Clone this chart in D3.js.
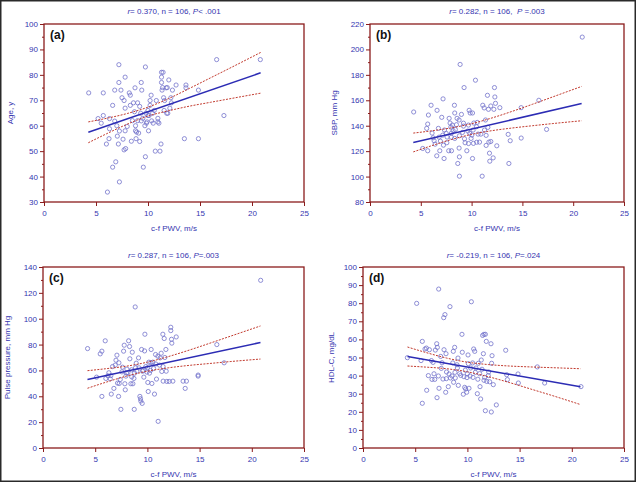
<!DOCTYPE html>
<html><head><meta charset="utf-8">
<script src="https://cdn.jsdelivr.net/npm/d3@7"></script>
<style>body{margin:0;background:#fff}svg{display:block}text{font-family:Arial,"Liberation Sans",sans-serif}</style>
</head><body>
<svg id="chart" width="636" height="482"></svg>
<script>
// ---------- data ----------
const pwvA = [4.3,5.2,5.5,5.7,5.7,6.0,6.1,6.25,6.3,6.3,6.6,6.6,6.8,6.9,6.8,7.0,7.05,7.15,7.2,7.2,7.25,7.25,7.4,7.5,7.6,7.7,7.7,7.8,7.8,7.8,7.85,8.0,8.2,8.3,8.3,8.4,8.6,8.7,8.75,8.8,8.8,8.85,8.9,9.0,9.1,9.2,9.2,9.3,9.35,9.35,9.4,9.5,9.55,9.7,9.75,9.75,9.8,9.85,9.9,10.0,10.05,10.1,10.2,10.2,10.3,10.35,10.45,10.5,10.6,10.7,10.8,10.95,10.95,11.05,11.15,11.25,11.3,11.3,11.3,11.35,11.4,11.45,11.5,11.55,11.6,11.75,11.8,11.85,11.9,12.0,12.1,12.2,12.25,12.35,12.7,13.5,13.65,13.65,14.85,14.85,16.6,17.3,20.8,9.0,10.0,8.5];
const ageA = [72.9,62.8,61,64,72.9,52.8,33.9,54.9,62.8,58.8,68,43.7,74,45.8,61.8,60,55.9,52.8,77,84,37.9,57.9,74,71,54.7,69.9,50.5,58,79.1,66.9,51,59.7,72.9,72,68,53.9,69,65.5,74.9,60,58,54.9,57.5,69,57.1,53.8,67.6,64.9,77,61.9,74,62.9,43.7,60,83.1,47.8,64.9,61,61.5,66,58,64,69.9,68,72,61.9,64.9,61,66,50,69.9,62.9,61.5,61,50,52.8,81,77,79.1,74,75,81,71,66,69.9,74.9,64.9,75,64.9,78,66.9,71,69,74,76,54.9,74.9,76,54.9,74,86,64,86,62,64,62];

const pwvB = [4.30,5.19,5.58,5.68,5.75,5.68,6.01,6.11,6.21,6.31,6.41,6.57,6.6,6.73,6.87,6.93,7.06,7.16,7.23,7.19,7.29,7.33,7.56,7.59,7.75,7.79,7.88,7.95,8.02,8.02,8.11,8.18,8.31,8.34,8.34,8.51,8.57,8.64,8.77,8.80,8.77,8.80,8.80,8.87,9.00,9.10,9.20,9.26,9.30,9.36,9.53,9.63,9.69,9.76,9.82,9.86,9.95,10.02,10.09,10.09,10.15,10.18,10.22,10.38,10.48,10.55,10.64,10.78,10.91,11.04,11.10,11.24,11.27,11.37,11.43,11.43,11.56,11.60,11.66,11.70,11.76,11.79,11.89,11.89,12.12,12.19,12.25,12.29,12.35,12.48,12.78,13.60,13.67,13.80,14.88,14.88,16.62,17.38,20.89,7.5,8.4,9.2,10.5,9.7,6.8,8.0];
const sbpB = [150.8,122.1,137.9,141.3,148.4,120.3,156.1,134.2,130.5,128.2,125.5,116.3,152.1,137.9,120.3,127.9,146.6,132.6,124.7,161.1,114.2,136.6,126.6,131.1,120.3,145.8,142.1,138.9,134.2,120.3,140.5,136.1,156.1,150.0,130.0,140.8,145.8,110.3,144.5,132.1,122.4,115.5,100.3,188.2,148.9,134.7,139.7,170.0,129.7,126.6,120.3,135.8,140.5,152.1,134.0,150.0,130.0,132.6,150.0,114.2,136.6,126.1,142.1,175.8,139.2,142.6,133.4,127.1,133.4,100.3,156.1,154.0,136.6,144.5,132.4,124.5,163.9,138.7,152.9,127.1,118.4,112.1,127.6,155.5,114.7,152.9,170.0,162.6,157.6,124.2,154.2,133.2,110.3,128.2,154.2,130.3,160.0,137.1,209.7,134,137,142,127,126,131,131];

const pwvC = [4.27,5.13,5.48,5.64,5.64,5.96,6.02,6.22,6.31,6.44,6.54,6.66,6.79,6.92,6.99,7.08,7.14,7.24,7.27,7.30,7.46,7.56,7.62,7.72,7.78,7.84,7.88,7.94,8.04,8.13,8.20,8.29,8.32,8.42,8.48,8.55,8.61,8.71,8.74,8.77,8.83,8.86,8.93,8.99,9.15,9.28,9.34,9.37,9.50,9.44,9.53,9.66,9.73,9.76,9.85,9.95,10.04,10.08,10.14,10.20,10.33,10.36,10.43,10.52,10.59,10.68,10.78,10.87,11.00,11.03,11.16,11.22,11.32,11.38,11.48,11.51,11.61,11.67,11.77,11.80,11.86,12.09,12.24,12.24,12.31,12.34,12.44,12.76,13.42,13.62,13.74,14.86,14.86,16.65,17.35,20.85,8.0,9.2,10.0,7.4,10.8,11.5,9.6,6.5,8.5,10.3];
const ppC = [76.9,54.8,72.8,74.9,39.9,82.9,53.8,55.8,58.2,53.5,41.7,63.0,46.1,64.1,67.9,71.8,50.2,39.9,65.9,49.9,29.9,58.9,62.5,74.9,79.5,49.7,45.0,55.6,61.0,58.2,82.9,78.5,69.0,49.7,60.5,74.1,49.7,53.8,29.9,57.9,109.1,62.0,65.6,59.4,69.7,39.9,38.1,36.3,34.5,76.2,59.4,54.8,75.1,88.0,63.0,58.7,50.7,43.7,66.4,57.9,66.1,76.2,49.9,66.4,61.5,41.7,72.3,53.3,71.0,20.6,64.1,69.7,73.3,59.2,88.0,51.7,84.7,70.0,76.2,59.4,51.5,51.5,93.4,90.8,84.1,81.1,51.7,85.9,51.7,46.1,51.7,56.4,55.6,80.0,65.9,129.7,58,62,62,53,65,63,60,56,55,60];

const pwvD = [4.25,5.14,5.56,5.68,5.68,5.94,6.07,6.10,6.26,6.36,6.55,6.71,6.61,6.87,6.93,7.06,7.12,7.09,7.22,7.25,7.28,7.44,7.57,7.66,7.73,7.76,7.85,7.95,7.92,7.98,8.17,8.24,8.33,8.37,8.52,8.65,8.68,8.78,8.81,8.84,9.04,9.10,9.13,9.26,9.36,9.48,9.51,9.61,9.67,9.74,9.83,9.93,9.96,10.06,10.09,10.15,10.25,10.31,10.38,10.54,10.60,10.70,10.76,10.82,10.95,11.05,11.17,11.21,11.27,11.33,11.40,11.46,11.59,11.72,11.53,11.59,11.65,11.72,11.81,11.85,12.04,12.13,12.26,12.29,12.32,12.36,12.48,12.77,13.67,13.76,13.83,14.85,14.88,16.70,17.40,20.88,8.0,9.0,10.0,11.0,7.5,8.6,9.8,10.5,12.0,6.8];
const hdlD = [49.9,79.9,48.3,58.9,24.7,54.7,55.2,31.9,40.0,54.3,48.3,47.3,37.9,37.9,54.1,57.6,55.6,27.8,39.8,87.8,33.0,50.6,47.1,38.1,72.0,54.3,73.7,52.1,30.8,38.3,33.9,40.9,78.1,38.7,39.8,53.4,36.3,55.6,41.8,38.7,44.2,49.7,34.6,41.1,40.1,62.8,52.9,29.7,39.4,33.5,32.6,30.8,38.9,51.4,46.6,33.0,39.8,44.2,80.8,39.0,54.7,53.4,41.8,44.2,30.0,46.8,41.1,33.9,27.1,48.6,43.5,62.2,62.8,62.8,52.1,37.4,39.0,20.6,58.9,36.8,42.0,36.6,57.6,19.9,46.8,51.0,35.0,23.8,54.0,40.5,37.8,40.9,35.9,44.8,35.9,33.9,42,46,41,38,44,47,43,47,40,41];

// regression lines (end points) and 95% confidence limits
const fitX = [4.26, 20.83];
const fitA = [57.4, 80.8];
const fitB = [126.8, 157.4];
const fitC = [53.0, 81.6];
const fitD = [50.5, 33.9];
const ciX = [4.26, 6, 8, 10, 12, 14, 16, 18, 20.83];
const ciUpperA = [61.5, 62.9, 64.8, 67.3, 70.7, 74.7, 78.8, 82.9, 88.8];
const ciLowerA = [53.3, 56.8, 60.6, 63.8, 65.9, 67.7, 69.2, 70.7, 72.8];
const ciUpperB = [134.2, 135.9, 138.3, 141.6, 146.1, 151.3, 156.9, 162.7, 170.9];
const ciLowerB = [119.4, 124.1, 129.1, 133.2, 136.1, 138.2, 140.0, 141.7, 143.9];
const ciUpperC = [59.8, 61.3, 63.3, 66.4, 70.7, 75.7, 81.1, 86.6, 94.4];
const ciLowerC = [46.2, 50.8, 55.6, 59.4, 62.0, 63.9, 65.4, 66.9, 68.8];
const ciUpperD = [55.8, 52.8, 49.7, 47.4, 46.1, 45.3, 44.8, 44.4, 43.8];
const ciLowerD = [45.3, 44.7, 43.8, 42.1, 39.4, 36.2, 32.7, 29.2, 24.0];

const xTicks = [0, 5, 10, 15, 20, 25];
const yTicksA = [30, 40, 50, 60, 70, 80, 90, 100];
const yTicksB = [80, 100, 120, 140, 160, 180, 200, 220];
const yTicksC = [0, 20, 40, 60, 80, 100, 120, 140];
const yTicksD = [0, 10, 20, 30, 40, 50, 60, 70, 80, 90, 100];

const labels = ['(a)', '(b)', '(c)', '(d)'];
const yTitles = ['Age, y', 'SBP, mm Hg', 'Pulse pressure, mm Hg', 'HDL-C, mg/dL'];
const xTitle = 'c-f PWV, m/s';
const statsText = [
  [['r', 1], ['= 0.370, n = 106, ', 0], ['P', 1], ['< .001', 0]],
  [['r', 1], ['= 0.282, n = 106,  ', 0], ['P', 1], [' =.003', 0]],
  [['r', 1], ['= 0.287, n = 106, ', 0], ['P', 1], ['=.003', 0]],
  [['r', 1], ['= -0.219, n = 106, ', 0], ['P', 1], ['=.024', 0]]
];

// ---------- layout ----------
const panels = [
  {x: pwvA, y: ageA, fit: fitA, cu: ciUpperA, cl: ciLowerA, yt: yTicksA, minor: 5, box: {l: 44, r: 304, t: 24, b: 202}, ytx: 10, ty: 14},
  {x: pwvB, y: sbpB, fit: fitB, cu: ciUpperB, cl: ciLowerB, yt: yTicksB, minor: 10, box: {l: 370, r: 624, t: 24, b: 202}, ytx: 334, ty: 14},
  {x: pwvC, y: ppC, fit: fitC, cu: ciUpperC, cl: ciLowerC, yt: yTicksC, minor: 10, box: {l: 43, r: 304, t: 267, b: 448}, ytx: 7, ty: 258},
  {x: pwvD, y: hdlD, fit: fitD, cu: ciUpperD, cl: ciLowerD, yt: yTicksD, minor: 5, box: {l: 363, r: 624, t: 267, b: 448}, ytx: 331, ty: 258}
];

const AXIS = '#8b1c1c', BLUE = '#3535b0', PT = '#7474cc', FIT = '#2c2cb4', CI = '#c23a2e';
const svg = d3.select('#chart');
svg.append('rect').attr('x', 0.5).attr('y', 0.5).attr('width', 635).attr('height', 481)
  .attr('fill', '#fff').attr('stroke', '#2a2a2a').attr('stroke-width', 2);

panels.forEach((p, i) => {
  const b = p.box;
  const ymin = p.yt[0], ymax = p.yt[p.yt.length - 1];
  const xs = d3.scaleLinear().domain([0, 25]).range([b.l, b.r]);
  const ys = d3.scaleLinear().domain([ymin, ymax]).range([b.b, b.t]);
  const g = svg.append('g');

  // minor y ticks
  const minorVals = d3.range(ymin, ymax + 0.001, p.minor).filter(v => !p.yt.includes(v));
  g.append('g').attr('transform', `translate(${b.l},0)`)
    .call(d3.axisLeft(ys).tickValues(minorVals).tickSize(2).tickFormat(''))
    .call(s => s.select('.domain').remove())
    .selectAll('line').attr('stroke', AXIS);

  // major axes
  const ya = g.append('g').attr('transform', `translate(${b.l},0)`)
    .call(d3.axisLeft(ys).tickValues(p.yt).tickSize(4).tickPadding(2).tickSizeOuter(0));
  const xa = g.append('g').attr('transform', `translate(0,${b.b})`)
    .call(d3.axisBottom(xs).tickValues(xTicks).tickSize(4).tickPadding(4).tickSizeOuter(0));
  [ya, xa].forEach(a => {
    a.select('.domain').remove();
    a.selectAll('line').attr('stroke', AXIS);
    a.selectAll('text').attr('fill', BLUE).style('font-size', '8px')
      .style('font-family', 'Arial, "Liberation Sans", sans-serif');
  });

  // frame
  g.append('rect').attr('x', b.l).attr('y', b.t).attr('width', b.r - b.l).attr('height', b.b - b.t)
    .attr('fill', 'none').attr('stroke', AXIS).attr('stroke-width', 1.3);

  // points
  g.append('g').selectAll('circle').data(p.x.map((v, k) => [v, p.y[k]])).join('circle')
    .attr('cx', d => xs(d[0])).attr('cy', d => ys(d[1])).attr('r', 2.1)
    .attr('fill', 'none').attr('stroke', PT).attr('stroke-width', 0.8);

  // CI lines
  const line = d3.line().x(d => xs(d[0])).y(d => ys(d[1])).curve(d3.curveMonotoneX);
  [p.cu, p.cl].forEach(arr => {
    g.append('path').attr('d', line(ciX.map((v, k) => [v, arr[k]])))
      .attr('fill', 'none').attr('stroke', CI).attr('stroke-width', 1).attr('stroke-dasharray', '2,1.3');
  });
  // fit line
  g.append('path').attr('d', line(fitX.map((v, k) => [v, p.fit[k]])))
    .attr('fill', 'none').attr('stroke', FIT).attr('stroke-width', 1.5);

  // panel label
  g.append('text').attr('x', b.l + 6).attr('y', b.t + 15).text(labels[i])
    .attr('font-size', 12).attr('font-weight', 'bold').attr('fill', '#111');

  // stats title
  const t = g.append('text').attr('x', (b.l + b.r) / 2).attr('y', p.ty).attr('text-anchor', 'middle')
    .attr('font-size', 8).attr('fill', BLUE).attr('xml:space', 'preserve').style('white-space', 'pre');
  statsText[i].forEach(s => t.append('tspan').text(s[0]).attr('font-style', s[1] ? 'italic' : 'normal'));

  // axis titles
  g.append('text').attr('x', (b.l + b.r) / 2).attr('y', b.b + 29).attr('text-anchor', 'middle')
    .attr('font-size', 8).attr('fill', BLUE).text(xTitle);
  g.append('text').attr('transform', `translate(${p.ytx},${(b.t + b.b) / 2}) rotate(-90)`)
    .attr('text-anchor', 'middle').attr('dy', '0.35em')
    .attr('font-size', 8).attr('fill', BLUE).text(yTitles[i]);
});
</script>
</body></html>
